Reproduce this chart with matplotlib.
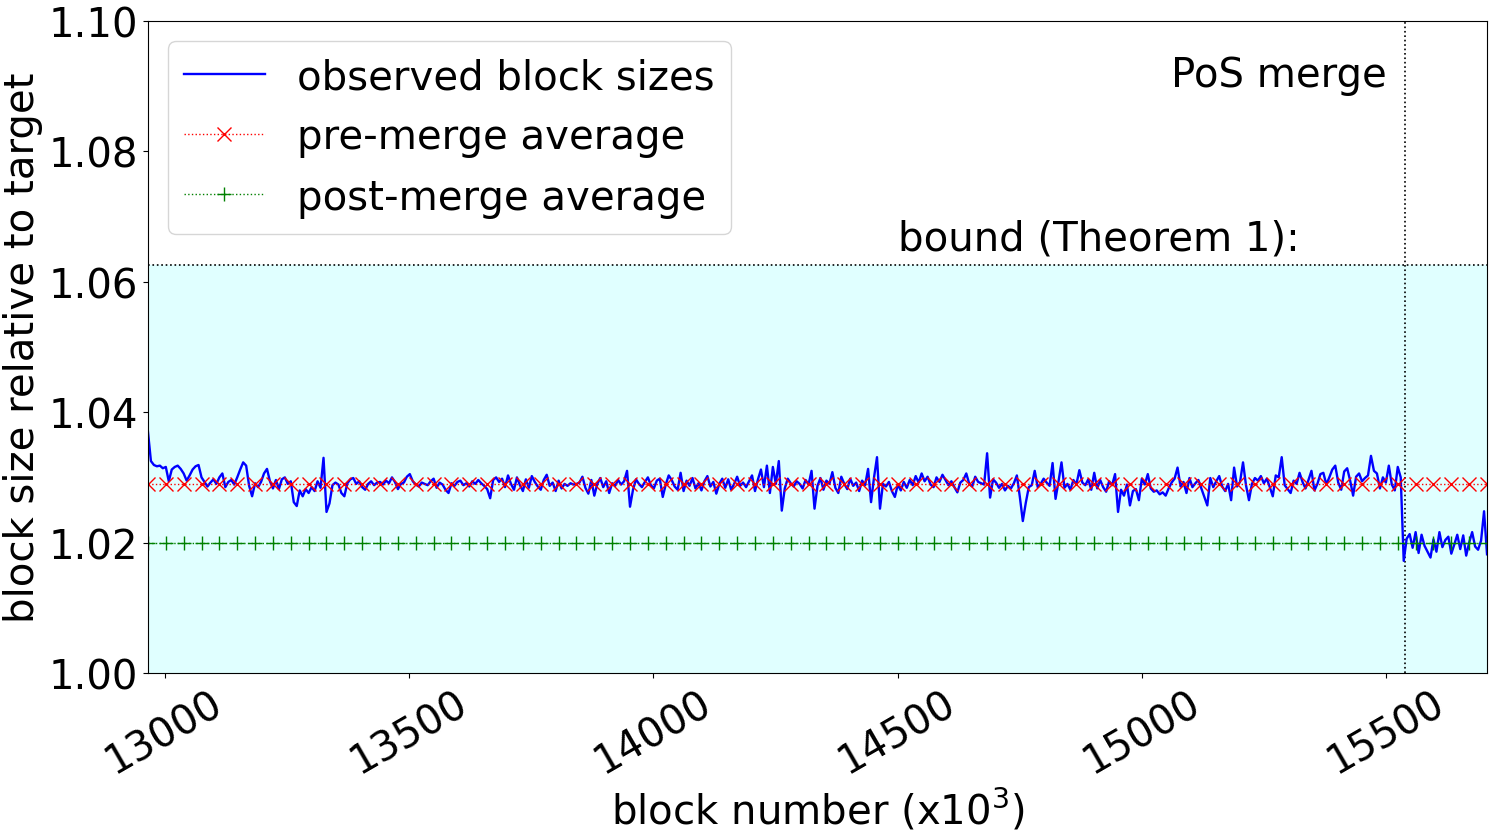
import numpy as np
import matplotlib
matplotlib.use("Agg")
import matplotlib.pyplot as plt


# DATA (block numbers in thousands, block size relative to target)

x_start = 12966
x_end = 15706
merge_block = 15537.4
bound = 1.0625
pre_merge_avg = 1.0290
post_merge_avg = 1.0199

observed = [
    1.0370, 1.0325, 1.0319, 1.0317, 1.0318, 1.0314, 1.0316, 1.0294, 1.0312, 1.0316,
    1.0318, 1.0313, 1.0306, 1.0295, 1.0303, 1.0312, 1.0317, 1.0319, 1.0300, 1.0293,
    1.0286, 1.0292, 1.0297, 1.0290, 1.0300, 1.0306, 1.0285, 1.0293, 1.0296, 1.0289,
    1.0300, 1.0312, 1.0323, 1.0318, 1.0287, 1.0271, 1.0291, 1.0285, 1.0293, 1.0306,
    1.0313, 1.0294, 1.0283, 1.0296, 1.0282, 1.0297, 1.0300, 1.0290, 1.0294, 1.0262,
    1.0256, 1.0280, 1.0271, 1.0282, 1.0276, 1.0285, 1.0279, 1.0294, 1.0284, 1.0330,
    1.0247, 1.0260, 1.0288, 1.0292, 1.0289, 1.0276, 1.0271, 1.0291, 1.0297, 1.0299,
    1.0290, 1.0294, 1.0285, 1.0281, 1.0290, 1.0294, 1.0288, 1.0292, 1.0293, 1.0289,
    1.0295, 1.0291, 1.0300, 1.0293, 1.0282, 1.0290, 1.0292, 1.0301, 1.0305, 1.0294,
    1.0289, 1.0286, 1.0292, 1.0290, 1.0288, 1.0294, 1.0298, 1.0284, 1.0292, 1.0289,
    1.0281, 1.0276, 1.0291, 1.0287, 1.0293, 1.0295, 1.0288, 1.0291, 1.0286, 1.0294,
    1.0290, 1.0296, 1.0291, 1.0287, 1.0282, 1.0268, 1.0296, 1.0300, 1.0293, 1.0298,
    1.0285, 1.0303, 1.0290, 1.0281, 1.0300, 1.0288, 1.0279, 1.0297, 1.0284, 1.0302,
    1.0293, 1.0286, 1.0281, 1.0296, 1.0304, 1.0287, 1.0292, 1.0279, 1.0295, 1.0283,
    1.0290, 1.0287, 1.0291, 1.0289, 1.0290, 1.0292, 1.0301, 1.0284, 1.0275, 1.0296,
    1.0272, 1.0290, 1.0299, 1.0285, 1.0294, 1.0276, 1.0291, 1.0287, 1.0296, 1.0289,
    1.0294, 1.0310, 1.0255, 1.0281, 1.0297, 1.0290, 1.0285, 1.0293, 1.0300, 1.0288,
    1.0283, 1.0295, 1.0298, 1.0270, 1.0289, 1.0303, 1.0296, 1.0286, 1.0281, 1.0307,
    1.0279, 1.0295, 1.0287, 1.0299, 1.0283, 1.0291, 1.0280, 1.0294, 1.0302, 1.0286,
    1.0293, 1.0275, 1.0290, 1.0298, 1.0284, 1.0297, 1.0281, 1.0290, 1.0301, 1.0287,
    1.0292, 1.0285, 1.0294, 1.0303, 1.0279, 1.0297, 1.0312, 1.0285, 1.0318, 1.0276,
    1.0316, 1.0290, 1.0325, 1.0249, 1.0283, 1.0298, 1.0291, 1.0286, 1.0294, 1.0290,
    1.0283, 1.0296, 1.0289, 1.0310, 1.0252, 1.0287, 1.0299, 1.0281, 1.0295, 1.0290,
    1.0308, 1.0284, 1.0276, 1.0301, 1.0290, 1.0282, 1.0298, 1.0287, 1.0292, 1.0279,
    1.0295, 1.0288, 1.0313, 1.0262, 1.0300, 1.0331, 1.0252, 1.0290, 1.0286, 1.0293,
    1.0279, 1.0270, 1.0289, 1.0280, 1.0293, 1.0284, 1.0296, 1.0288, 1.0302, 1.0292,
    1.0306, 1.0294, 1.0301, 1.0289, 1.0285, 1.0300, 1.0293, 1.0304, 1.0296, 1.0288,
    1.0294, 1.0285, 1.0277, 1.0292, 1.0296, 1.0306, 1.0290, 1.0286, 1.0301, 1.0293,
    1.0291, 1.0289, 1.0337, 1.0269, 1.0297, 1.0292, 1.0284, 1.0290, 1.0280, 1.0287,
    1.0283, 1.0291, 1.0303, 1.0270, 1.0233, 1.0261, 1.0285, 1.0288, 1.0310, 1.0285,
    1.0290, 1.0298, 1.0292, 1.0287, 1.0322, 1.0267, 1.0294, 1.0323, 1.0284, 1.0290,
    1.0281, 1.0296, 1.0289, 1.0311, 1.0292, 1.0288, 1.0297, 1.0281, 1.0307, 1.0283,
    1.0296, 1.0285, 1.0278, 1.0294, 1.0288, 1.0305, 1.0247, 1.0281, 1.0272, 1.0289,
    1.0257, 1.0279, 1.0282, 1.0265, 1.0298, 1.0289, 1.0305, 1.0283, 1.0278, 1.0280,
    1.0274, 1.0277, 1.0272, 1.0283, 1.0292, 1.0298, 1.0315, 1.0286, 1.0293, 1.0276,
    1.0299, 1.0285, 1.0291, 1.0296, 1.0283, 1.0270, 1.0257, 1.0299, 1.0285, 1.0294,
    1.0302, 1.0286, 1.0279, 1.0290, 1.0265, 1.0315, 1.0286, 1.0293, 1.0323, 1.0288,
    1.0265, 1.0290, 1.0299, 1.0295, 1.0302, 1.0291, 1.0298, 1.0285, 1.0271, 1.0303,
    1.0300, 1.0331, 1.0288, 1.0282, 1.0276, 1.0295, 1.0290, 1.0307, 1.0293, 1.0283,
    1.0296, 1.0310, 1.0280, 1.0290, 1.0305, 1.0307, 1.0289, 1.0300, 1.0312, 1.0318,
    1.0292, 1.0281, 1.0309, 1.0314, 1.0295, 1.0272, 1.0301, 1.0306, 1.0294, 1.0299,
    1.0303, 1.0333, 1.0310, 1.0306, 1.0283, 1.0300, 1.0292, 1.0318, 1.0289, 1.0280,
    1.0316, 1.0300,
    # post-merge
    1.0172, 1.0206, 1.0213, 1.0192, 1.0216, 1.0184, 1.0212, 1.0195, 1.0186, 1.0177,
    1.0205, 1.0186, 1.0216, 1.0193, 1.0204, 1.0209, 1.0183, 1.0197, 1.0212, 1.0190,
    1.0211, 1.0180, 1.0200, 1.0216, 1.0194, 1.0189, 1.0203, 1.0248, 1.0182,
]

blocks = np.linspace(x_start, x_end, len(observed))

FS = 29


# PLOT

fig = plt.figure(figsize=(14.93, 8.37), dpi=100)
ax = fig.add_axes([0.0991, 0.1948, 0.8969, 0.7789])

ax.axhspan(1.0, bound, color="lightcyan", zorder=0)
ax.axhline(bound, color="k", linestyle=":", linewidth=1.2)
ax.axvline(merge_block, color="k", linestyle=":", linewidth=1.2)

ax.plot(blocks, observed, color="blue", linewidth=1.7, label="observed block sizes")
ax.plot(blocks, [pre_merge_avg] * len(blocks), "rx:", markevery=6,
        markersize=10, linewidth=1.0, label="pre-merge average")
ax.plot(blocks, [post_merge_avg] * len(blocks), "g+:", markevery=6,
        markersize=10, linewidth=1.0, label="post-merge average")

ax.text(15500, 1.09, "PoS merge", ha="right", fontsize=FS)
ax.text(14500, 1.065, "bound (Theorem 1):", ha="left", fontsize=FS)

ax.set_xlim(x_start, x_end)
ax.set_ylim(1.0, 1.1)
ax.set_xticks([13000, 13500, 14000, 14500, 15000, 15500])
ax.set_yticks([1.00, 1.02, 1.04, 1.06, 1.08, 1.10])
ax.set_yticklabels(["1.00", "1.02", "1.04", "1.06", "1.08", "1.10"])
ax.tick_params(axis="both", labelsize=FS)
plt.setp(ax.get_xticklabels(), rotation=30)

ax.set_xlabel("block number (x$10^3$)", fontsize=FS)
ax.set_ylabel("block size relative to target", fontsize=FS)
ax.legend(loc="upper left", fontsize=FS)

fig.savefig("out.png", dpi=100)
